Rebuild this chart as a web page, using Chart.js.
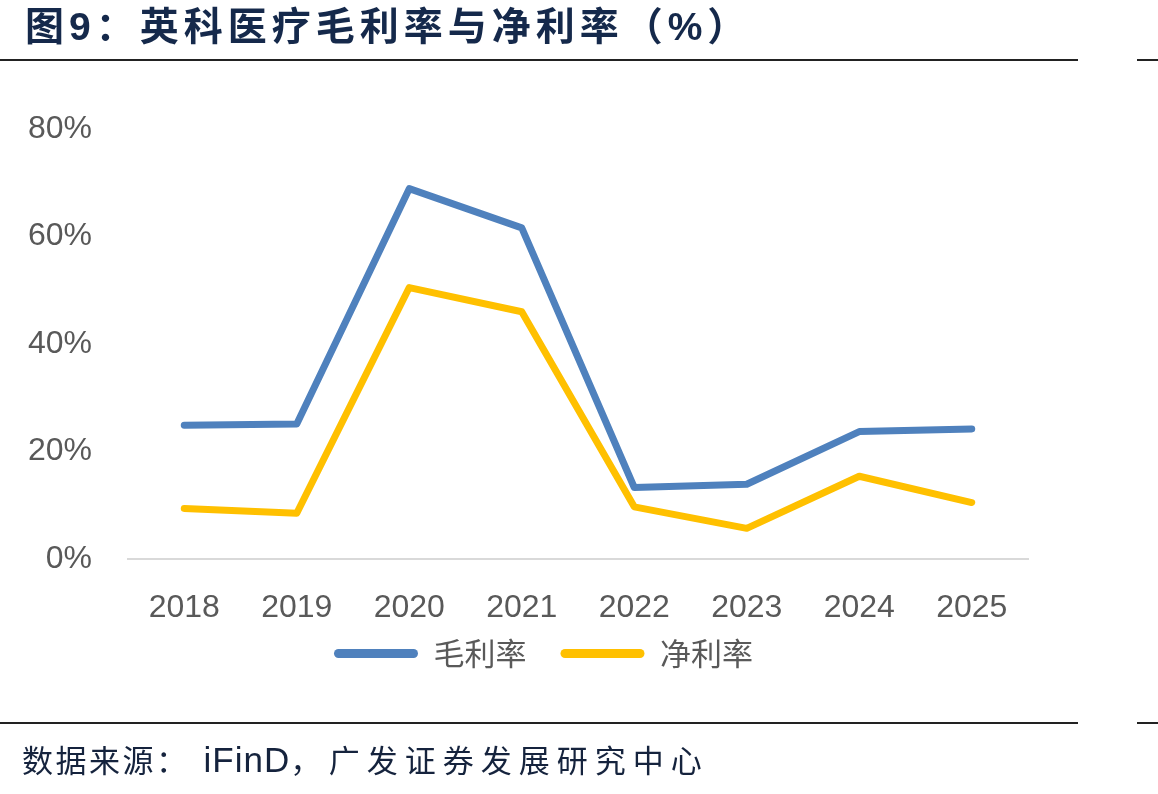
<!DOCTYPE html>
<html>
<head>
<meta charset="utf-8">
<script src="https://cdn.jsdelivr.net/npm/chart.js@4/dist/chart.umd.min.js"></script>
<style>
  html, body { margin: 0; padding: 0; background: #ffffff; }
  #wrap { position: relative; width: 1158px; height: 794px; overflow: hidden; background: #fff; }
  #c { position: absolute; left: 0; top: 0; }
  .title { position: absolute; left: 25px; top: 7px; font-family: "Liberation Sans", "Noto Sans CJK SC", sans-serif; font-weight: 700; font-size: 39px; line-height: 39px; letter-spacing: 5px; color: #15294B; white-space: nowrap; }
  .source { position: absolute; left: 22px; top: 744px; font-family: "Liberation Sans", "Noto Sans CJK SC", sans-serif; font-weight: 400; font-size: 31px; line-height: 31px; letter-spacing: 2.5px; color: #15233D; white-space: nowrap; }
  .rule { position: absolute; height: 2px; background: #222; }
</style>
</head>
<body>
<div id="wrap">
  <canvas id="c" width="1158" height="794"></canvas>
  <div class="title">图9：英科医疗毛利率与净利率（%）</div>
  <div class="rule" style="left:0; top:59px; width:1078px;"></div>
  <div class="rule" style="left:1137px; top:59px; width:21px;"></div>
  <div class="rule" style="left:0; top:722px; width:1078px;"></div>
  <div class="rule" style="left:1137px; top:722px; width:21px;"></div>
  <div class="source">数据来源：<span style="margin-left:14px; font-size:35px; letter-spacing:1px;">iFinD</span>，<span style="margin-left:5px; letter-spacing:7px;">广发证券发展研究中心</span></div>
</div>
<script>
const categories = ['2018', '2019', '2020', '2021', '2022', '2023', '2024', '2025'];
const grossMargin = [24.9, 25.1, 68.9, 61.6, 13.3, 13.9, 23.7, 24.2];
const netMargin = [9.4, 8.5, 50.5, 46.0, 9.7, 5.7, 15.4, 10.5];
const seriesNames = ['毛利率', '净利率'];
const yTicks = [0, 20, 40, 60, 80];

const legendShift = {
  id: 'legendShift',
  afterLayout(chart) {
    const l = chart.legend;
    if (!l) return;
    const targetX = 543.5;
    const dx = targetX - (l.left + l.right) / 2;
    l.left += dx;
    l.right += dx;
    const h = l.bottom - l.top;
    l.top = 604;
    l.bottom = l.top + h;
  }
};

new Chart(document.getElementById('c'), {
  type: 'line',
  data: {
    labels: categories,
    datasets: [
      {
        label: seriesNames[0],
        data: grossMargin,
        borderColor: '#4F81BD',
        backgroundColor: '#4F81BD',
        borderWidth: 7,
        pointRadius: 0,
        tension: 0,
        borderCapStyle: 'round',
        borderJoinStyle: 'round'
      },
      {
        label: seriesNames[1],
        data: netMargin,
        borderColor: '#FFC000',
        backgroundColor: '#FFC000',
        borderWidth: 7,
        pointRadius: 0,
        tension: 0,
        borderCapStyle: 'round',
        borderJoinStyle: 'round'
      }
    ]
  },
  options: {
    responsive: false,
    devicePixelRatio: 1,
    animation: false,
    layout: { padding: { left: 0, right: 130, top: 129, bottom: 80 } },
    plugins: {
      title: { display: false },
      tooltip: { enabled: false },
      legend: {
        display: true,
        position: 'bottom',
        labels: {
          font: { family: '"Noto Sans CJK SC", sans-serif', size: 31 },
          color: '#595959',
          boxWidth: 84,
          boxHeight: 9,
          padding: 34,
          generateLabels(chart) {
            return chart.data.datasets.map((ds, i) => ({
              text: ds.label,
              fillStyle: ds.borderColor,
              strokeStyle: ds.borderColor,
              lineWidth: 0,
              borderRadius: 4.5,
              hidden: false,
              datasetIndex: i,
              fontColor: '#595959'
            }));
          }
        }
      }
    },
    scales: {
      x: {
        type: 'category',
        offset: true,
        grid: { display: false, drawTicks: false },
        border: { display: true, color: '#D9D9D9', width: 2 },
        ticks: {
          font: { family: '"Liberation Sans", Arial, sans-serif', size: 32 },
          color: '#595959',
          padding: 30,
          maxRotation: 0
        },
        afterFit(scale) { scale.height = 80; }
      },
      y: {
        min: yTicks[0],
        max: yTicks[yTicks.length - 1],
        grid: { display: false, drawTicks: false },
        border: { display: false },
        afterBuildTicks(scale) { scale.ticks = yTicks.map(v => ({ value: v })); },
        ticks: {
          font: { family: '"Liberation Sans", Arial, sans-serif', size: 32 },
          color: '#595959',
          padding: 36,
          callback: (v) => v + '%'
        },
        afterFit(scale) { scale.width = 128; }
      }
    }
  },
  plugins: [legendShift]
});
</script>
</body>
</html>
